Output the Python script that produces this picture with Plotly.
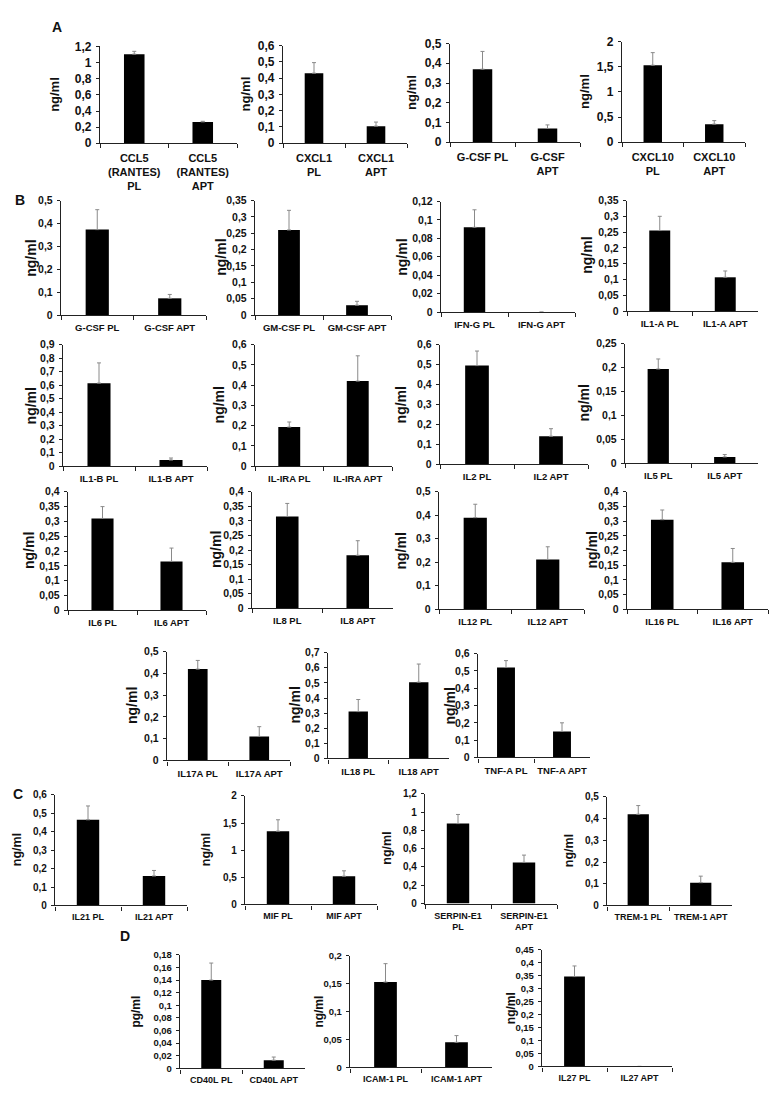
import math
import plotly.graph_objects as go

# ---------------- data ----------------
# Row A
A_cats = [["CCL5<br>(RANTES)<br>PL", "CCL5<br>(RANTES)<br>APT"],
          ["CXCL1<br>PL", "CXCL1<br>APT"],
          ["G-CSF PL", "G-CSF<br>APT"],
          ["CXCL10<br>PL", "CXCL10<br>APT"]]
A_vals = [[1.105, 0.265], [0.43, 0.105], [0.37, 0.07], [1.53, 0.36]]
A_tops = [[1.14, 0.272], [0.495, 0.13], [0.46, 0.088], [1.78, 0.43]]
A_ymax = [1.2, 0.6, 0.5, 2]
A_ystep = [0.2, 0.1, 0.1, 0.5]
A_units = ["ng/ml", "ng/ml", "ng/ml", "ng/ml"]

# Row B1
B1_cats = [["G-CSF PL", "G-CSF APT"], ["GM-CSF PL", "GM-CSF APT"],
           ["IFN-G PL", "IFN-G APT"], ["IL1-A PL", "IL1-A APT"]]
B1_vals = [[0.373, 0.073], [0.26, 0.03], [0.092, 0.0], [0.255, 0.107]]
B1_tops = [[0.46, 0.09], [0.32, 0.042], [0.111, 0.0], [0.30, 0.127]]
B1_ymax = [0.5, 0.35, 0.12, 0.35]
B1_ystep = [0.1, 0.05, 0.02, 0.05]
B1_units = ["ng/ml", "ng/ml", "ng/ml", "ng/ml"]

# Row B2
B2_cats = [["IL1-B PL", "IL1-B APT"], ["IL-IRA PL", "IL-IRA APT"],
           ["IL2 PL", "IL2 APT"], ["IL5 PL", "IL5 APT"]]
B2_vals = [[0.615, 0.045], [0.193, 0.42], [0.495, 0.14], [0.197, 0.013]]
B2_tops = [[0.765, 0.06], [0.218, 0.545], [0.568, 0.178], [0.218, 0.018]]
B2_ymax = [0.9, 0.6, 0.6, 0.25]
B2_ystep = [0.1, 0.1, 0.1, 0.05]
B2_units = ["ng/ml", "ng/ml", "ng/ml", "ng/ml"]

# Row B3
B3_cats = [["IL6 PL", "IL6 APT"], ["IL8 PL", "IL8 APT"],
           ["IL12 PL", "IL12 APT"], ["IL16 PL", "IL16 APT"]]
B3_vals = [[0.31, 0.165], [0.315, 0.182], [0.39, 0.212], [0.305, 0.16]]
B3_tops = [[0.35, 0.21], [0.36, 0.232], [0.447, 0.266], [0.338, 0.207]]
B3_ymax = [0.4, 0.4, 0.5, 0.4]
B3_ystep = [0.05, 0.05, 0.1, 0.05]
B3_units = ["ng/ml", "ng/ml", "ng/ml", "ng/ml"]

# Row B4
B4_cats = [["IL17A PL", "IL17A APT"], ["IL18 PL", "IL18 APT"],
           ["TNF-A PL", "TNF-A APT"]]
B4_vals = [[0.42, 0.11], [0.31, 0.505], [0.52, 0.15]]
B4_tops = [[0.46, 0.155], [0.39, 0.625], [0.56, 0.20]]
B4_ymax = [0.5, 0.7, 0.6]
B4_ystep = [0.1, 0.1, 0.1]
B4_units = ["ng/ml", "ng/ml", "ng/ml"]

# Row C
C_cats = [["IL21 PL", "IL21 APT"], ["MIF PL", "MIF APT"],
          ["SERPIN-E1<br>PL", "SERPIN-E1<br>APT"], ["TREM-1 PL", "TREM-1 APT"]]
C_vals = [[0.465, 0.16], [1.35, 0.52], [0.875, 0.45], [0.42, 0.105]]
C_tops = [[0.54, 0.19], [1.56, 0.62], [0.975, 0.53], [0.46, 0.135]]
C_ymax = [0.6, 2, 1.2, 0.5]
C_ystep = [0.1, 0.5, 0.2, 0.1]
C_units = ["ng/ml", "ng/ml", "ng/ml", "ng/ml"]

# Row D
D_cats = [["CD40L PL", "CD40L APT"], ["ICAM-1 PL", "ICAM-1 APT"],
          ["IL27 PL", "IL27 APT"]]
D_vals = [[0.14, 0.013], [0.153, 0.045], [0.347, 0.0]]
D_tops = [[0.167, 0.018], [0.186, 0.057], [0.388, 0.0]]
D_ymax = [0.18, 0.2, 0.45]
D_ystep = [0.02, 0.05, 0.05]
D_units = ["pg/ml", "ng/ml", "ng/ml"]

# ---------------- layout (pixel boxes: x0, x1, ytop, yzero, title_x) ----------------
W, H = 780, 1106
FONT = "Liberation Sans, Arial, sans-serif"

rows = [
    dict(cats=A_cats, vals=A_vals, tops=A_tops, ymax=A_ymax, ystep=A_ystep, units=A_units,
         boxes=[(100, 237, 40, 138, 55), (283, 407, 39, 138, 245),
                (450, 580, 37, 137, 412), (622, 745, 35, 137, 585)],
         tick=12, xlab=11, ttl=13, bw=0.30, stand=4),
    dict(cats=B1_cats, vals=B1_vals, tops=B1_tops, ymax=B1_ymax, ystep=B1_ystep, units=B1_units,
         boxes=[(61, 206, 196, 312, 31), (255, 391, 196, 312, 221),
                (441, 575, 197, 309, 402), (627, 758, 196, 308, 587)],
         tick=10.5, xlab=9.5, ttl=14, bw=0.32, stand=3),
    dict(cats=B2_cats, vals=B2_vals, tops=B2_tops, ymax=B2_ymax, ystep=B2_ystep, units=B2_units,
         boxes=[(63, 207, 342, 465, 31), (255, 392, 342, 465, 219),
                (440, 588, 342, 463, 401), (625, 758, 341, 462, 584)],
         tick=10.5, xlab=9.5, ttl=14, bw=0.32, stand=3),
    dict(cats=B3_cats, vals=B3_vals, tops=B3_tops, ymax=B3_ymax, ystep=B3_ystep, units=B3_units,
         boxes=[(68, 206, 491, 611, 29), (252, 393, 491, 609, 216),
                (439, 584, 491, 610, 401), (627, 768, 491, 610, 592)],
         tick=10.5, xlab=9.5, ttl=14, bw=0.32, stand=3),
    dict(cats=B4_cats, vals=B4_vals, tops=B4_tops, ymax=B4_ymax, ystep=B4_ystep, units=B4_units,
         boxes=[(167, 290, 653, 763, 132), (328, 449, 654, 761, 295),
                (478, 590, 655, 760, 450)],
         tick=10.5, xlab=9.5, ttl=14, bw=0.32, stand=4),
    dict(cats=C_cats, vals=C_vals, tops=C_tops, ymax=C_ymax, ystep=C_ystep, units=C_units,
         boxes=[(55, 187, 798, 910, 17), (245, 377, 799, 909, 206),
                (425, 557, 797, 908, 387), (607, 732, 800, 910, 569)],
         tick=10, xlab=9, ttl=12.5, bw=0.34, stand=3),
    dict(cats=D_cats, vals=D_vals, tops=D_tops, ymax=D_ymax, ystep=D_ystep, units=D_units,
         boxes=[(180, 305, 960, 1075, 136), (350, 492, 961, 1074, 319),
                (542, 672, 955, 1073, 511)],
         tick=9.5, xlab=9, ttl=12, bw=0.32, stand=3),
]

letters = [("A", 57, 20), ("B", 20, 195), ("C", 18, 797), ("D", 125, 941)]


def fx(p):
    return p / W


def fy(p):
    return 1 - p / H


def fmt(v):
    s = f"{v:.2f}".rstrip("0").rstrip(".")
    return s.replace(".", ",")


fig = go.Figure()
annotations = []
layout_axes = {}
k = 0
for row in rows:
    for i, (x0, x1, yt, yz, tx) in enumerate(row["boxes"]):
        k += 1
        xa = "x" if k == 1 else f"x{k}"
        ya = "y" if k == 1 else f"y{k}"
        cats = row["cats"][i]
        vals = row["vals"][i]
        tops = row["tops"][i]
        errs = [(t - v) if t > 0 else math.nan for t, v in zip(tops, vals)]
        errm = [0 if t > 0 else math.nan for t in tops]
        fig.add_trace(go.Bar(
            x=cats, y=vals, xaxis=xa, yaxis=ya, width=row["bw"],
            marker=dict(color="black", line=dict(color="black", width=0)),
            error_y=dict(type="data", symmetric=False, array=errs, arrayminus=errm,
                         color="#8a8a8a", thickness=1, width=2, visible=True),
            showlegend=False, hoverinfo="skip"))
        ymax = row["ymax"][i]
        step = row["ystep"][i]
        n = int(round(ymax / step))
        tv = [round(j * step, 4) for j in range(n + 1)]
        tt = [fmt(v) for v in tv]
        xkey = "xaxis" if k == 1 else f"xaxis{k}"
        ykey = "yaxis" if k == 1 else f"yaxis{k}"
        layout_axes[xkey] = dict(
            domain=[fx(x0), fx(x1)], anchor=ya, type="category",
            range=[-0.5, 1.5], showline=True, linecolor="#222", linewidth=1.4,
            ticks="outside", tickson="boundaries", ticklen=4, tickcolor="#222",
            tickwidth=1, showgrid=False, zeroline=False, fixedrange=True,
            tickangle=0, ticklabelstandoff=row["stand"],
            tickfont=dict(family=FONT, size=row["xlab"], color="#111", weight="bold"))
        layout_axes[ykey] = dict(
            domain=[fy(yz), fy(yt)], anchor=xa, range=[0, ymax],
            tickmode="array", tickvals=tv, ticktext=tt,
            showline=True, linecolor="#222", linewidth=1.4,
            ticks="outside", ticklen=3, tickcolor="#222", tickwidth=1,
            showgrid=False, zeroline=False, fixedrange=True, ticklabelstandoff=2,
            tickfont=dict(family=FONT, size=row["tick"], color="#111", weight="bold"))
        annotations.append(dict(
            text=row["units"][i], x=fx(tx), y=fy((yt + yz) / 2),
            xref="paper", yref="paper", showarrow=False, textangle=-90,
            xanchor="center", yanchor="middle",
            font=dict(family=FONT, size=row["ttl"], color="#111", weight="bold")))

for txt, lx, ly in letters:
    annotations.append(dict(
        text=txt, x=fx(lx), y=fy(ly), xref="paper", yref="paper",
        showarrow=False, xanchor="center", yanchor="middle",
        font=dict(family=FONT, size=14, color="#111", weight="bold")))

fig.update_layout(
    width=W, height=H, margin=dict(l=0, r=0, t=0, b=0),
    paper_bgcolor="white", plot_bgcolor="white",
    annotations=annotations, bargap=0.6, **layout_axes)

fig.write_html("out.html", config={"displayModeBar": False},
               post_script="document.body.style.margin='0';document.body.style.overflow='hidden';")
